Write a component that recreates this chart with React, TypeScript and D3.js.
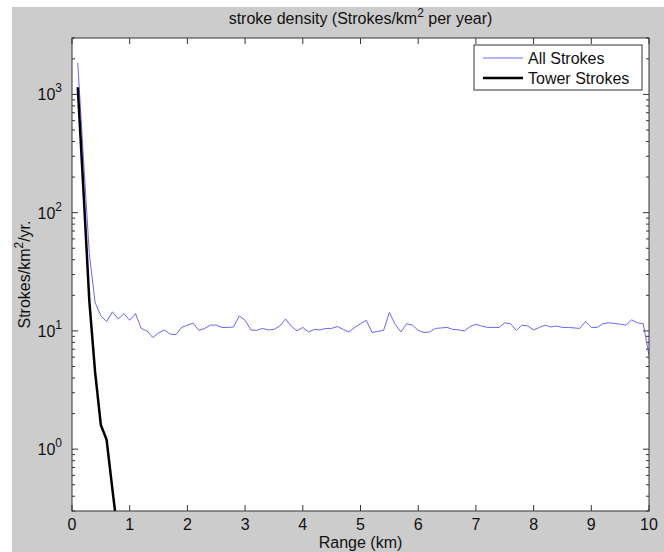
import React from "react";
import * as d3 from "d3";

// range bins (km) and densities
const allRange = d3.range(1, 101).map((i) => i / 10);
const allStrokes = [
  1850, 280, 45, 17.4, 13.4, 12, 14.5, 12.6, 14, 12.3,
  14, 10.5, 10, 8.8, 9.6, 10.2, 9.4, 9.3, 10.7, 11.2,
  11.6, 10.1, 10.5, 11.2, 11.2, 10.7, 10.7, 10.8, 13.4, 12.3,
  10.2, 10.1, 10.5, 10.2, 10.3, 11.0, 12.6, 11.0, 10.0, 10.7,
  9.8, 10.3, 10.2, 10.5, 10.5, 10.9, 10.3, 9.8, 10.7, 11.5,
  12.3, 9.7, 9.9, 10.1, 14.3, 11.4, 9.8, 11.5, 11.2, 10.1,
  9.7, 9.8, 10.5, 10.6, 10.7, 10.3, 10.2, 10.0, 10.9, 11.4,
  11.0, 10.7, 10.7, 10.7, 11.7, 11.5, 10.1, 11.2, 11.0, 10.2,
  10.7, 11.2, 10.8, 11.0, 10.7, 10.7, 10.6, 10.5, 12.0, 10.7,
  10.7, 11.5, 11.7, 11.6, 11.4, 11.2, 12.4, 11.7, 11.5, 6.2,
];
const towerRange = [0.1, 0.2, 0.3, 0.4, 0.5, 0.6, 0.7, 0.8];
const towerStrokes = [1150, 150, 18, 4.5, 1.6, 1.2, 0.46, 0.18];

const xTicks = [0, 1, 2, 3, 4, 5, 6, 7, 8, 9, 10];
const yDecades = [0, 1, 2, 3];

const W = 664;
const H = 552;
const margin = { top: 38, right: 15, bottom: 41, left: 72 };
const font = "Liberation Sans, Arial, Helvetica, sans-serif";

export default function App() {
  const iw = W - margin.left - margin.right;
  const ih = H - margin.top - margin.bottom;

  const x = d3.scaleLinear().domain([0, 10]).range([0, iw]);
  const y = d3.scaleLog().domain([0.3, 3000]).range([ih, 0]);

  const line = d3
    .line<number>()
    .x((d, i) => x(allRange[i]))
    .y((d) => y(d));
  const towerLine = d3
    .line<number>()
    .x((d, i) => x(towerRange[i]))
    .y((d) => y(d));

  // minor log ticks 2..9 in each decade
  const minor: number[] = [];
  for (let e = -1; e <= 3; e++) {
    for (let m = 2; m <= 9; m++) {
      const v = m * Math.pow(10, e);
      if (v >= 0.3 && v <= 3000) minor.push(v);
    }
  }

  const axisColor = "#333";
  const major = 6;
  const minorLen = 3;

  return (
    <svg
      width={W}
      height={H}
      style={{ position: "absolute", left: 0, top: 0, background: "#fff" }}
      fontFamily={font}
    >
      <rect x={12} y={7} width={W - 12} height={H - 7} fill="#cccccc" />
      <g transform={`translate(${margin.left},${margin.top})`}>
        <rect width={iw} height={ih} fill="#fff" />
        <defs>
          <clipPath id="plotclip">
            <rect width={iw} height={ih} />
          </clipPath>
        </defs>

        {/* x ticks, bottom and top */}
        {xTicks.map((t) => (
          <g key={"x" + t}>
            <line x1={x(t)} x2={x(t)} y1={ih} y2={ih - major} stroke={axisColor} />
            <line x1={x(t)} x2={x(t)} y1={0} y2={major} stroke={axisColor} />
            <text x={x(t)} y={ih + 19} textAnchor="middle" fontSize={16} fill="#111">
              {t}
            </text>
          </g>
        ))}

        {/* y ticks, left and right */}
        {yDecades.map((e) => {
          const yy = y(Math.pow(10, e));
          return (
            <g key={"y" + e}>
              <line x1={0} x2={major} y1={yy} y2={yy} stroke={axisColor} />
              <line x1={iw} x2={iw - major} y1={yy} y2={yy} stroke={axisColor} />
              <text x={-10} y={yy + 6} textAnchor="end" fontSize={16} fill="#111">
                10
                <tspan dy={-8} fontSize={12}>
                  {e}
                </tspan>
              </text>
            </g>
          );
        })}
        {minor.map((v) => (
          <g key={"m" + v}>
            <line x1={0} x2={minorLen} y1={y(v)} y2={y(v)} stroke={axisColor} />
            <line x1={iw} x2={iw - minorLen} y1={y(v)} y2={y(v)} stroke={axisColor} />
          </g>
        ))}

        <g clipPath="url(#plotclip)">
          <path d={line(allStrokes) || ""} fill="none" stroke="#6666ff" strokeWidth={1} />
          <path d={towerLine(towerStrokes) || ""} fill="none" stroke="#000" strokeWidth={2.5} />
        </g>

        <rect width={iw} height={ih} fill="none" stroke={axisColor} strokeWidth={1} />

        {/* legend */}
        <g transform={`translate(${iw - 175},7)`}>
          <rect width={168} height={45} fill="#fff" stroke={axisColor} />
          <line x1={9} x2={49} y1={13} y2={13} stroke="#6666ff" strokeWidth={1} />
          <text x={54} y={19} fontSize={16} fill="#111">
            All Strokes
          </text>
          <line x1={9} x2={49} y1={33} y2={33} stroke="#000" strokeWidth={2.5} />
          <text x={54} y={39} fontSize={16} fill="#111">
            Tower Strokes
          </text>
        </g>

        <text x={iw / 2} y={-14} textAnchor="middle" fontSize={16} fill="#111">
          stroke density (Strokes/km
          <tspan dy={-7} fontSize={12}>
            2
          </tspan>
          <tspan dy={7}> per year)</tspan>
        </text>
        <text x={iw / 2} y={ih + 37} textAnchor="middle" fontSize={16} fill="#111">
          Range (km)
        </text>
        <text
          transform={`translate(-42,${ih / 2}) rotate(-90)`}
          textAnchor="middle"
          fontSize={16}
          fill="#111"
        >
          Strokes/km
          <tspan dy={-7} fontSize={12}>
            2
          </tspan>
          <tspan dy={7}>/yr.</tspan>
        </text>
      </g>
    </svg>
  );
}
